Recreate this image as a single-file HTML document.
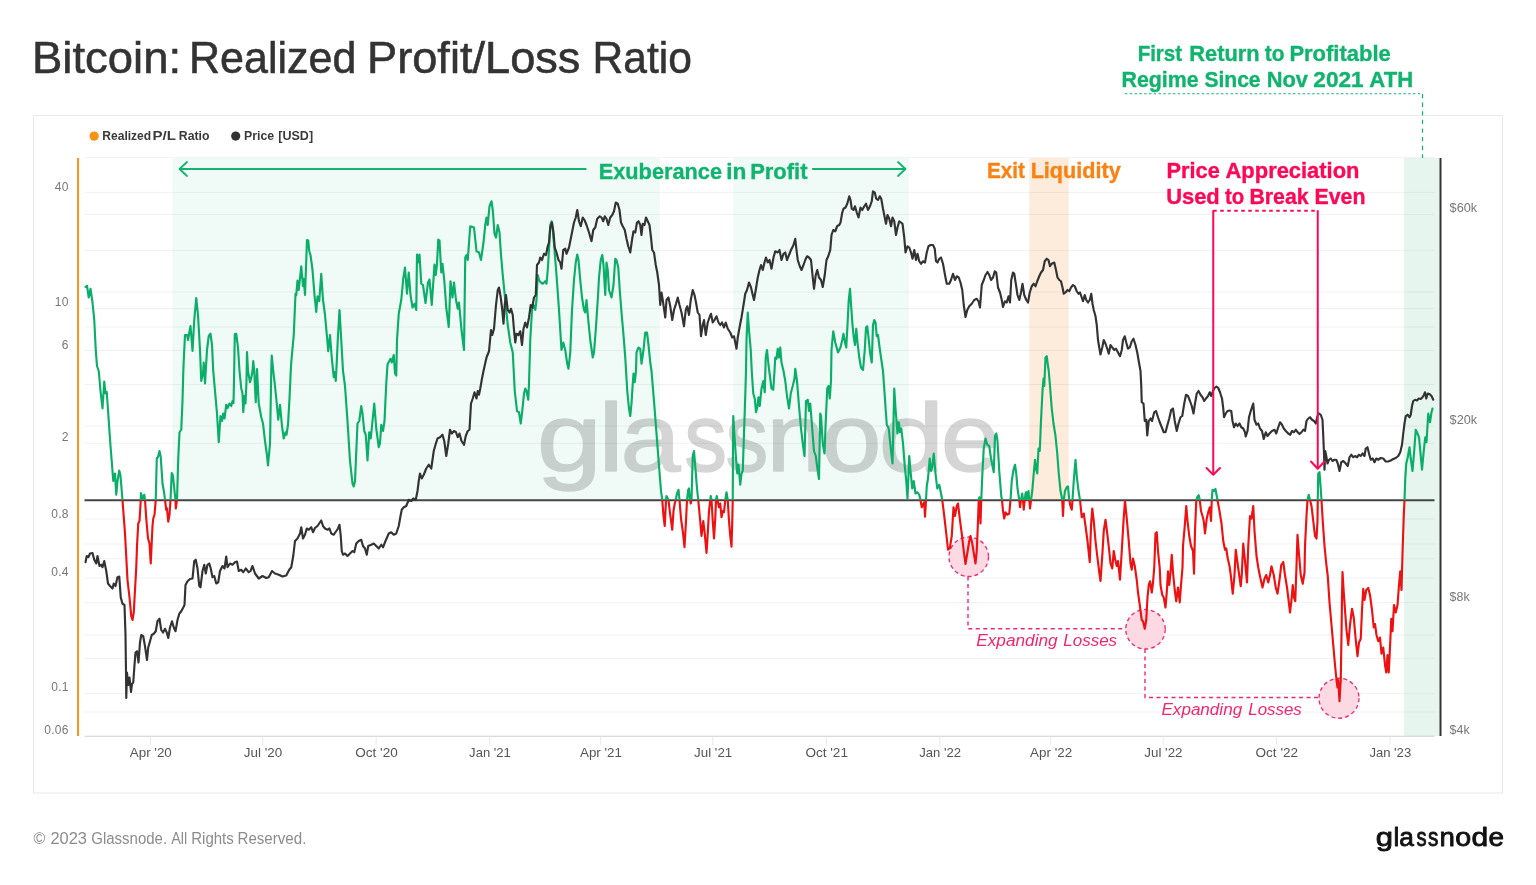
<!DOCTYPE html>
<html lang="en"><head><meta charset="utf-8"><title>Bitcoin: Realized Profit/Loss Ratio</title>
<style>
html,body{margin:0;padding:0;background:#fff;}
body{width:1536px;height:885px;overflow:hidden;font-family:"Liberation Sans", Arial, Helvetica, sans-serif;}
svg{display:block;will-change:transform}
text{font-family:"Liberation Sans", Arial, Helvetica, sans-serif;}
</style></head><body>
<svg width="1536" height="885" viewBox="0 0 1536 885">
<defs>
<clipPath id="up"><rect x="80" y="150" width="1360" height="350.25"/></clipPath>
<clipPath id="dn"><rect x="80" y="500.25" width="1360" height="240"/></clipPath>
</defs>
<rect x="0" y="0" width="1536" height="885" fill="#ffffff"/>

<g font-size="43.45" fill="#333" stroke="#333" stroke-width="0.55"> <text x="31.97" y="72.9" textLength="149.08" lengthAdjust="spacingAndGlyphs">Bitcoin:</text> <text x="188.97" y="72.9" textLength="167.4" lengthAdjust="spacingAndGlyphs">Realized</text> <text x="367.1" y="72.9" textLength="213.34" lengthAdjust="spacingAndGlyphs">Profit/Loss</text> <text x="592.61" y="72.9" textLength="99.38" lengthAdjust="spacingAndGlyphs">Ratio</text> </g>
<rect x="33.5" y="115.5" width="1469" height="677.5" fill="#ffffff" stroke="#e9e9e9" stroke-width="1"/>
<circle cx="94.15" cy="136.1" r="4.7" fill="#f7931a"/>
<g font-size="12.7" font-weight="bold" fill="#3a3a3a" > <text x="102.29" y="140.45" textLength="48.9" lengthAdjust="spacingAndGlyphs">Realized</text> <text x="152.5" y="140.45" textLength="23.37" lengthAdjust="spacingAndGlyphs">P/L</text> <text x="178.78" y="140.45" textLength="30.7" lengthAdjust="spacingAndGlyphs">Ratio</text> </g>
<circle cx="235.7" cy="136.1" r="4.6" fill="#333"/>
<g font-size="12.7" font-weight="bold" fill="#3a3a3a" > <text x="244.08" y="140.45" textLength="30.15" lengthAdjust="spacingAndGlyphs">Price</text> <text x="278.3" y="140.45" textLength="34.81" lengthAdjust="spacingAndGlyphs">[USD]</text> </g>
<rect x="172.5" y="158" width="487.25" height="342.25" fill="#f0faf6"/>
<rect x="733.5" y="158" width="175.25" height="342.25" fill="#f0faf6"/>
<rect x="1029.25" y="158" width="39.5" height="342.25" fill="#fdebdc"/>
<rect x="1404" y="158" width="35.5" height="578" fill="#e6f6ef"/>
<g stroke="#000" stroke-opacity="0.055" stroke-width="1">
<line x1="84.5" x2="1434.5" y1="157.6" y2="157.6"/>
<line x1="84.5" x2="1434.5" y1="192.4" y2="192.4"/>
<line x1="84.5" x2="1434.5" y1="214.4" y2="214.4"/>
<line x1="84.5" x2="1434.5" y1="250.4" y2="250.4"/>
<line x1="84.5" x2="1434.5" y1="292" y2="292"/>
<line x1="84.5" x2="1434.5" y1="308.5" y2="308.5"/>
<line x1="84.5" x2="1434.5" y1="327" y2="327"/>
<line x1="84.5" x2="1434.5" y1="350.5" y2="350.5"/>
<line x1="84.5" x2="1434.5" y1="384.5" y2="384.5"/>
<line x1="84.5" x2="1434.5" y1="426" y2="426"/>
<line x1="84.5" x2="1434.5" y1="443.3" y2="443.3"/>
<line x1="84.5" x2="1434.5" y1="519" y2="519"/>
<line x1="84.5" x2="1434.5" y1="544" y2="544"/>
<line x1="84.5" x2="1434.5" y1="558.75" y2="558.75"/>
<line x1="84.5" x2="1434.5" y1="578" y2="578"/>
<line x1="84.5" x2="1434.5" y1="602.6" y2="602.6"/>
<line x1="84.5" x2="1434.5" y1="635" y2="635"/>
<line x1="84.5" x2="1434.5" y1="658.4" y2="658.4"/>
<line x1="84.5" x2="1434.5" y1="693.6" y2="693.6"/>
<line x1="84.5" x2="1434.5" y1="712" y2="712"/>
</g>
<line x1="84.5" x2="1434.5" y1="736.25" y2="736.25" stroke="#cfcfcf" stroke-width="1"/>
<g stroke="#e9e9e9" stroke-width="1">
<line x1="150.5" x2="150.5" y1="736.5" y2="745"/>
<line x1="262.7" x2="262.7" y1="736.5" y2="745"/>
<line x1="376.2" x2="376.2" y1="736.5" y2="745"/>
<line x1="489.7" x2="489.7" y1="736.5" y2="745"/>
<line x1="600.7" x2="600.7" y1="736.5" y2="745"/>
<line x1="712.9" x2="712.9" y1="736.5" y2="745"/>
<line x1="826.4" x2="826.4" y1="736.5" y2="745"/>
<line x1="939.8" x2="939.8" y1="736.5" y2="745"/>
<line x1="1050.8" x2="1050.8" y1="736.5" y2="745"/>
<line x1="1163.1" x2="1163.1" y1="736.5" y2="745"/>
<line x1="1276.5" x2="1276.5" y1="736.5" y2="745"/>
<line x1="1390" x2="1390" y1="736.5" y2="745"/>
</g>
<g font-size="12.4" fill="#555">
<text x="129.80" y="756.6" textLength="42" lengthAdjust="spacingAndGlyphs">Apr '20</text>
<text x="243.88" y="756.6" textLength="38.25" lengthAdjust="spacingAndGlyphs">Jul '20</text>
<text x="355.25" y="756.6" textLength="42.5" lengthAdjust="spacingAndGlyphs">Oct '20</text>
<text x="469.12" y="756.6" textLength="41.75" lengthAdjust="spacingAndGlyphs">Jan '21</text>
<text x="580.00" y="756.6" textLength="42" lengthAdjust="spacingAndGlyphs">Apr '21</text>
<text x="694.07" y="756.6" textLength="38.25" lengthAdjust="spacingAndGlyphs">Jul '21</text>
<text x="805.45" y="756.6" textLength="42.5" lengthAdjust="spacingAndGlyphs">Oct '21</text>
<text x="919.22" y="756.6" textLength="41.75" lengthAdjust="spacingAndGlyphs">Jan '22</text>
<text x="1030.10" y="756.6" textLength="42" lengthAdjust="spacingAndGlyphs">Apr '22</text>
<text x="1144.27" y="756.6" textLength="38.25" lengthAdjust="spacingAndGlyphs">Jul '22</text>
<text x="1255.55" y="756.6" textLength="42.5" lengthAdjust="spacingAndGlyphs">Oct '22</text>
<text x="1369.42" y="756.6" textLength="41.75" lengthAdjust="spacingAndGlyphs">Jan '23</text>
</g>
<g font-size="12" fill="#777" text-anchor="end" letter-spacing="0.3">
<text x="68.8" y="190.5">40</text>
<text x="68.8" y="306.3">10</text>
<text x="68.8" y="349.0">6</text>
<text x="68.8" y="440.9">2</text>
<text x="68.8" y="517.5">0.8</text>
<text x="68.8" y="575.7">0.4</text>
<text x="68.8" y="691.3">0.1</text>
<text x="68.8" y="734.0">0.06</text>
</g>
<g font-size="12" fill="#777">
<text x="1449.6" y="212.3" textLength="27.5" lengthAdjust="spacingAndGlyphs">$60k</text>
<text x="1449.6" y="424.1" textLength="27.5" lengthAdjust="spacingAndGlyphs">$20k</text>
<text x="1449.6" y="600.5" textLength="20" lengthAdjust="spacingAndGlyphs">$8k</text>
<text x="1449.6" y="734.3" textLength="20" lengthAdjust="spacingAndGlyphs">$4k</text>
</g>
<line x1="78.05" x2="78.05" y1="158" y2="736" stroke="#f7931a" stroke-width="2"/>
<line x1="1440.5" x2="1440.5" y1="158" y2="736" stroke="#333" stroke-width="2"/>
<g aria-label="glassnode" opacity="0.16" fill="#000" stroke="#000" stroke-width="1.6" stroke-linejoin="round" font-size="100"><text transform="translate(536.8,471.2) scale(1.173,0.97)">g</text><text transform="translate(598.3,471.2) scale(1.15,0.97)">l</text><text transform="translate(620.5,471.2) scale(1.08,0.97)">a</text><text transform="translate(684.3,471.2) scale(0.856,0.97)">s</text><text transform="translate(725.6,471.2) scale(0.856,0.97)">s</text><text transform="translate(766.5,471.2) scale(1.056,0.97)">n</text><text transform="translate(821.2,471.2) scale(1.083,0.97)">o</text><text transform="translate(878.6,471.2) scale(1.184,0.97)">d</text><text transform="translate(940.8,471.2) scale(1.064,0.97)">e</text></g>
<line x1="84.5" x2="1434.5" y1="500.25" y2="500.25" stroke="#444" stroke-width="1.8"/>
<circle cx="968.75" cy="556.75" r="19.75" fill="#fcd9e3" stroke="#f2266f" stroke-width="1.3" stroke-dasharray="4 3"/>
<circle cx="1145.5" cy="629.25" r="19.75" fill="#fcd9e3" stroke="#f2266f" stroke-width="1.3" stroke-dasharray="4 3"/>
<circle cx="1339" cy="698.25" r="20" fill="#fcd9e3" stroke="#f2266f" stroke-width="1.3" stroke-dasharray="4 3"/>
<path d="M968,576.5 V628.75 H1126" fill="none" stroke="#f2266f" stroke-width="1.4" stroke-dasharray="4 3.5"/>
<path d="M1145,649 V697.5 H1319" fill="none" stroke="#f2266f" stroke-width="1.4" stroke-dasharray="4 3.5"/>
<path d="M85.50,287.00 L87.00,285.75 L88.75,297.50 L90.50,288.75 L92.50,302.50 L94.25,320.00 L95.75,350.00 L97.00,366.00 L98.75,371.00 L100.50,391.00 L102.50,408.50 L104.25,381.50 L105.50,393.50 L106.75,392.00 L108.75,421.00 L110.50,446.00 L112.50,471.00 L113.25,481.00 L115.00,473.50 L116.25,494.75 L117.50,481.00 L119.25,470.50 L120.50,476.00 L122.50,500.00 L125.00,533.50 L127.50,580.00 L129.50,597.50 L131.25,616.25 L132.50,620.00 L133.75,612.50 L135.00,590.00 L136.25,567.50 L137.00,546.00 L138.25,523.50 L139.50,521.00 L140.75,500.00 L140.90,493.00 L142.50,498.50 L144.25,494.75 L145.00,500.00 L146.25,518.50 L148.00,538.50 L149.50,543.50 L150.75,563.50 L152.50,526.00 L153.25,518.50 L154.50,514.75 L155.75,500.00 L156.75,458.50 L158.00,457.00 L159.50,451.00 L160.75,457.25 L162.50,483.50 L164.25,493.50 L165.00,500.00 L166.25,509.75 L167.00,508.50 L168.25,521.75 L169.50,514.75 L170.50,500.00 L171.75,473.00 L173.00,476.00 L174.50,491.00 L175.50,500.00 L175.75,508.50 L177.00,500.00 L178.25,458.50 L179.50,432.25 L181.25,429.75 L182.50,401.00 L183.25,373.50 L183.60,363.75 L185.00,335.00 L187.00,335.00 L188.00,340.00 L190.50,326.00 L192.50,351.00 L194.25,320.00 L196.25,298.00 L198.00,315.00 L200.00,350.00 L201.25,381.00 L203.00,373.00 L203.75,362.50 L205.00,383.50 L207.00,350.00 L208.75,336.00 L210.50,333.75 L212.00,345.00 L213.25,371.00 L215.00,391.00 L217.00,413.50 L218.75,442.25 L220.50,416.00 L222.00,421.00 L223.25,413.50 L224.50,418.50 L226.25,404.75 L227.50,408.00 L229.50,403.50 L231.25,406.00 L232.50,401.00 L233.50,403.00 L234.20,371.00 L234.80,334.00 L236.25,333.75 L238.00,347.50 L239.50,371.00 L241.25,388.50 L242.50,393.50 L243.25,412.25 L244.50,396.00 L245.50,403.50 L246.50,381.00 L247.00,352.00 L248.00,371.00 L250.00,382.25 L251.25,378.00 L252.50,371.00 L253.25,361.00 L254.25,371.00 L255.75,402.25 L257.00,369.00 L258.75,403.50 L261.25,417.25 L263.00,423.50 L265.00,441.00 L266.75,453.50 L268.00,465.50 L270.00,443.50 L271.25,371.00 L271.75,355.50 L273.25,371.00 L275.00,386.00 L276.75,403.50 L278.25,419.75 L280.00,404.75 L282.00,426.00 L283.75,438.50 L285.50,432.25 L286.50,434.75 L288.00,424.75 L289.50,398.50 L290.75,371.00 L291.25,362.50 L293.75,335.00 L295.50,293.75 L296.25,295.00 L297.50,280.50 L298.75,290.00 L301.25,266.25 L303.00,286.25 L303.75,278.75 L305.00,295.00 L307.00,240.00 L308.25,240.50 L309.25,251.25 L310.50,255.00 L312.50,270.00 L314.50,295.00 L316.25,312.00 L317.50,296.25 L319.25,301.25 L321.25,273.75 L323.00,300.00 L325.00,315.00 L327.50,342.50 L328.25,351.25 L330.00,335.00 L331.75,357.50 L333.75,377.25 L335.00,372.00 L335.75,381.00 L336.50,367.50 L338.00,335.00 L339.50,310.00 L341.25,340.00 L343.00,371.00 L345.00,386.00 L347.50,421.00 L350.00,461.00 L352.50,483.50 L353.75,486.50 L355.00,481.00 L357.50,423.50 L359.25,421.00 L361.25,406.00 L362.50,413.50 L364.25,431.00 L365.75,434.75 L367.50,460.50 L369.25,432.25 L370.75,438.50 L372.50,421.00 L374.25,403.50 L376.25,428.50 L378.75,447.25 L380.00,443.50 L381.25,424.75 L383.00,431.00 L384.50,421.00 L386.25,383.50 L387.50,364.50 L390.50,358.75 L391.75,362.50 L393.75,355.00 L395.00,373.50 L396.25,375.50 L397.00,340.00 L398.75,313.75 L401.25,300.00 L403.25,278.75 L405.00,267.50 L407.00,293.75 L408.75,272.50 L410.50,295.00 L412.50,307.50 L414.50,303.75 L416.25,310.00 L417.00,254.50 L418.25,262.50 L419.50,254.50 L421.25,283.75 L423.00,285.00 L425.50,303.00 L428.00,282.50 L429.50,279.50 L431.75,305.00 L434.50,264.50 L435.75,275.00 L437.00,263.75 L438.25,239.50 L439.50,240.50 L441.25,272.50 L442.50,263.75 L444.25,280.00 L446.25,307.50 L448.75,327.00 L450.50,281.25 L452.50,297.50 L454.00,282.50 L456.00,300.00 L457.75,308.75 L459.00,302.50 L461.50,330.00 L464.00,350.00 L465.25,257.50 L466.50,255.00 L467.75,260.00 L470.25,226.25 L474.00,227.50 L476.50,251.25 L479.00,252.50 L481.00,260.00 L483.50,242.50 L485.25,225.00 L486.50,217.50 L487.75,225.00 L489.50,206.25 L491.50,201.25 L492.75,210.00 L494.50,233.75 L496.00,237.50 L497.75,225.00 L499.50,232.50 L501.00,255.00 L502.75,275.00 L505.25,300.00 L507.75,325.00 L510.25,342.50 L512.75,352.50 L514.75,391.00 L517.00,411.00 L519.00,412.25 L520.75,423.50 L522.25,411.00 L524.00,393.50 L525.25,388.50 L526.50,391.00 L528.25,399.75 L529.00,383.50 L530.25,340.00 L532.00,310.00 L533.50,305.00 L535.25,310.00 L536.50,300.00 L537.75,275.00 L539.00,280.00 L540.75,282.50 L542.75,283.75 L545.25,281.25 L546.50,283.75 L547.75,270.00 L549.00,250.00 L550.25,225.00 L551.50,221.25 L552.75,230.00 L554.50,250.00 L556.50,275.00 L559.00,310.00 L561.50,350.00 L563.25,342.50 L565.25,350.00 L567.25,363.75 L568.50,368.75 L570.25,352.50 L572.00,310.00 L574.00,280.00 L575.75,262.50 L577.25,254.50 L578.50,260.00 L580.25,280.00 L582.00,297.50 L584.00,310.00 L585.25,312.50 L586.50,300.00 L588.25,320.00 L590.25,340.00 L592.75,357.50 L594.00,352.50 L595.75,330.00 L597.75,300.00 L599.00,277.50 L600.75,260.00 L602.25,255.00 L603.50,265.00 L605.25,295.00 L606.50,262.50 L607.75,270.00 L609.00,290.00 L611.50,297.50 L613.50,285.00 L615.25,258.75 L616.50,260.00 L618.25,267.50 L619.75,290.00 L621.50,312.50 L623.50,335.00 L625.25,357.50 L627.25,391.00 L629.00,408.50 L630.25,416.00 L631.50,403.50 L632.75,383.50 L633.50,373.50 L634.75,382.25 L636.00,371.00 L636.50,352.50 L638.50,347.50 L640.25,348.75 L641.50,363.75 L643.50,350.00 L645.25,332.50 L647.00,332.50 L648.50,345.00 L650.25,362.50 L651.50,371.00 L654.00,401.00 L656.50,433.50 L659.00,466.00 L661.00,491.00 L662.25,500.00 L663.50,516.00 L664.75,526.00 L666.00,500.00 L666.50,496.00 L667.75,498.50 L668.50,500.00 L669.50,508.75 L670.75,518.50 L672.25,529.75 L673.50,511.00 L674.75,503.50 L675.75,500.00 L677.00,493.50 L678.50,489.75 L679.50,500.00 L681.00,518.50 L682.75,531.00 L684.50,547.25 L686.00,521.00 L687.00,500.00 L688.25,489.75 L689.00,488.50 L689.75,498.50 L690.25,500.00 L690.75,503.50 L691.50,500.00 L692.75,456.00 L694.00,451.00 L695.25,466.00 L697.00,488.50 L698.25,500.00 L699.75,516.00 L701.50,536.00 L703.25,521.00 L704.75,533.50 L706.50,553.00 L707.75,533.50 L709.00,511.00 L710.25,500.00 L710.75,496.00 L711.50,500.00 L712.75,521.00 L714.00,538.50 L715.25,518.50 L716.00,500.00 L716.75,496.00 L717.50,500.00 L719.00,507.25 L720.25,503.50 L721.50,517.25 L722.75,511.00 L724.00,512.25 L725.25,500.00 L726.50,492.25 L727.75,500.00 L729.00,521.00 L730.25,536.00 L731.50,546.75 L732.25,521.00 L732.75,500.00 L733.00,446.00 L733.25,416.00 L734.50,436.00 L736.00,458.50 L737.25,473.50 L738.50,464.75 L740.25,484.75 L741.50,473.50 L742.75,471.00 L744.00,433.50 L745.25,396.00 L746.00,371.00 L746.50,340.00 L747.75,312.50 L749.00,330.00 L750.75,350.00 L751.75,371.00 L753.25,393.50 L754.75,398.50 L756.00,412.25 L757.25,407.25 L758.50,397.25 L759.75,406.00 L761.50,388.50 L763.25,381.00 L764.75,392.25 L765.75,357.50 L767.00,350.00 L768.50,365.00 L770.25,378.50 L771.50,388.50 L773.25,389.75 L774.50,371.00 L775.25,357.50 L776.50,358.75 L777.75,348.75 L779.00,357.50 L780.25,347.50 L781.50,362.50 L783.50,371.00 L785.25,381.00 L787.00,396.00 L789.00,408.50 L790.75,393.50 L792.75,386.00 L794.50,378.50 L795.25,368.75 L797.00,381.00 L799.00,406.00 L801.00,428.50 L802.75,443.50 L804.50,456.00 L806.00,401.00 L807.75,399.75 L809.00,411.00 L810.25,403.50 L812.00,426.00 L814.00,451.00 L815.75,456.00 L817.75,471.00 L819.00,479.00 L820.25,413.50 L821.00,416.00 L822.75,443.50 L824.50,453.50 L825.75,421.00 L827.25,388.50 L828.50,386.00 L829.75,398.50 L831.00,381.00 L831.50,350.00 L833.25,331.25 L835.25,342.50 L838.00,352.50 L840.50,347.50 L842.25,340.00 L843.50,333.75 L845.00,342.50 L846.25,347.50 L847.50,325.00 L848.75,300.00 L850.00,288.75 L851.25,307.50 L852.50,325.00 L853.75,337.50 L855.00,345.00 L856.25,328.75 L857.50,342.50 L859.25,357.50 L861.00,367.50 L863.00,370.00 L864.75,350.00 L866.00,327.50 L867.25,326.25 L868.50,337.50 L870.00,352.50 L871.75,362.50 L873.00,325.00 L874.25,320.00 L875.50,322.50 L876.75,336.25 L878.00,335.00 L879.25,345.00 L881.00,357.50 L883.00,371.00 L884.75,396.00 L886.75,424.75 L888.75,428.50 L890.50,446.00 L892.50,463.50 L893.50,421.00 L894.25,388.50 L895.50,408.50 L897.50,433.50 L898.75,422.25 L900.00,432.25 L901.25,428.50 L903.00,443.50 L904.75,466.00 L906.25,481.00 L907.50,498.50 L909.25,456.00 L910.50,471.00 L912.25,488.50 L913.75,481.00 L915.50,493.50 L917.50,492.25 L919.25,494.75 L920.50,500.00 L921.75,507.25 L923.00,504.75 L924.25,502.25 L925.00,516.75 L926.00,500.00 L926.75,486.00 L928.00,478.50 L929.75,458.50 L931.00,471.00 L932.25,467.25 L933.75,453.50 L935.50,473.50 L937.25,488.50 L939.25,484.75 L941.00,493.50 L942.25,500.00 L944.25,516.00 L946.25,533.50 L948.00,549.75 L949.75,548.50 L951.75,536.00 L953.50,507.25 L955.00,516.00 L956.75,506.00 L958.00,503.50 L959.75,518.50 L961.75,533.50 L963.75,551.00 L965.50,564.00 L967.25,553.50 L969.25,541.00 L970.50,536.00 L972.25,543.50 L974.25,556.00 L975.50,563.50 L976.75,551.00 L978.00,521.00 L978.75,500.00 L979.25,497.25 L979.75,500.00 L980.50,523.50 L981.25,500.00 L982.50,471.00 L983.75,448.50 L985.50,438.50 L987.25,444.75 L989.25,446.00 L991.00,458.50 L992.50,466.00 L993.75,472.25 L995.00,436.00 L996.25,433.50 L997.50,441.00 L999.25,471.00 L1001.25,496.00 L1002.00,500.00 L1003.00,511.00 L1004.25,518.50 L1005.50,512.25 L1007.25,514.75 L1009.25,513.50 L1010.50,500.00 L1011.75,481.00 L1013.50,469.75 L1015.00,464.75 L1016.25,473.50 L1017.50,488.50 L1019.25,500.00 L1020.00,507.25 L1021.00,500.00 L1022.25,493.50 L1023.00,500.00 L1023.75,509.75 L1024.75,500.00 L1025.50,493.50 L1026.25,492.25 L1027.25,500.00 L1028.50,491.00 L1029.25,500.00 L1030.00,508.50 L1031.00,500.00 L1032.25,491.00 L1033.75,473.50 L1035.00,459.75 L1036.25,469.75 L1037.25,473.50 L1038.50,448.50 L1039.75,451.00 L1041.00,421.00 L1042.50,391.00 L1043.50,378.50 L1044.25,386.00 L1045.50,357.50 L1046.75,356.25 L1048.00,366.00 L1048.75,371.00 L1050.00,386.00 L1051.75,408.50 L1053.50,423.50 L1055.50,436.00 L1057.25,453.50 L1058.75,473.50 L1060.50,491.00 L1061.75,497.25 L1062.25,500.00 L1063.00,516.00 L1063.75,500.00 L1065.00,491.00 L1066.75,487.25 L1068.00,486.50 L1069.25,500.00 L1070.50,506.00 L1071.75,509.75 L1072.50,500.00 L1073.75,481.00 L1075.50,459.75 L1076.75,476.00 L1078.50,491.00 L1080.00,500.00 L1081.75,517.25 L1083.75,513.50 L1085.50,526.00 L1087.50,541.00 L1089.75,562.25 L1091.00,526.00 L1092.25,508.50 L1093.75,521.00 L1095.50,541.00 L1097.25,556.00 L1099.25,572.25 L1100.50,581.00 L1102.25,556.00 L1103.75,531.00 L1105.50,519.75 L1107.25,533.50 L1109.25,551.00 L1110.50,563.50 L1112.25,568.50 L1113.75,551.00 L1115.00,558.50 L1116.75,566.00 L1118.00,561.00 L1120.00,579.75 L1121.75,551.00 L1123.50,521.00 L1125.00,500.50 L1126.75,518.50 L1128.75,541.00 L1130.50,563.50 L1131.75,569.75 L1133.00,558.50 L1134.75,566.00 L1136.75,580.00 L1138.00,592.50 L1139.75,605.00 L1141.75,620.00 L1143.00,621.25 L1144.75,628.75 L1146.25,620.00 L1147.50,597.50 L1148.75,585.00 L1150.00,581.25 L1151.75,592.50 L1153.00,582.50 L1154.25,567.50 L1155.50,533.50 L1156.75,532.25 L1158.00,551.00 L1159.75,568.50 L1160.50,585.00 L1162.25,595.00 L1163.75,597.50 L1165.50,607.50 L1166.75,592.50 L1168.00,571.25 L1169.25,585.00 L1170.50,572.50 L1171.75,554.75 L1173.00,572.50 L1174.75,590.00 L1176.25,601.25 L1178.00,587.50 L1179.75,602.50 L1181.00,585.00 L1182.50,567.50 L1183.00,546.00 L1184.75,526.00 L1186.25,506.00 L1187.50,521.00 L1189.25,536.00 L1191.00,546.00 L1193.00,551.00 L1194.00,573.75 L1195.00,531.00 L1196.25,501.00 L1197.25,497.25 L1198.75,495.25 L1199.75,500.00 L1201.00,511.00 L1202.50,516.00 L1203.75,521.00 L1205.00,533.50 L1206.75,518.50 L1208.50,511.00 L1209.75,507.25 L1211.00,521.00 L1211.75,500.00 L1212.50,489.75 L1214.00,491.00 L1215.50,489.00 L1216.75,496.00 L1217.50,500.00 L1219.50,511.00 L1221.50,523.50 L1223.25,541.00 L1225.00,549.75 L1226.25,548.50 L1227.75,558.50 L1229.50,566.00 L1230.75,575.00 L1232.75,593.75 L1234.50,575.00 L1235.75,549.75 L1238.25,568.50 L1240.75,586.25 L1241.75,575.00 L1243.25,543.50 L1245.00,561.00 L1247.00,582.50 L1248.25,546.00 L1250.00,516.00 L1251.50,518.50 L1253.25,506.00 L1254.50,531.00 L1256.50,556.00 L1258.25,567.50 L1260.25,577.50 L1262.50,587.50 L1264.50,578.75 L1266.25,575.00 L1268.25,582.50 L1270.00,575.00 L1271.50,566.25 L1273.75,575.00 L1275.75,587.50 L1277.50,593.75 L1279.50,580.00 L1281.25,565.00 L1283.25,562.00 L1285.00,575.00 L1287.00,587.50 L1288.25,597.50 L1290.00,612.50 L1291.50,600.00 L1292.75,585.00 L1294.00,597.50 L1295.25,601.25 L1296.50,566.00 L1297.50,534.75 L1298.75,551.00 L1300.75,575.00 L1302.75,583.75 L1304.50,572.50 L1305.00,546.00 L1306.50,516.00 L1307.50,500.00 L1308.75,494.75 L1310.00,500.00 L1311.50,506.00 L1313.25,521.00 L1315.00,536.00 L1316.50,538.50 L1317.50,521.00 L1317.75,500.00 L1318.25,473.50 L1319.50,472.25 L1320.75,488.50 L1321.50,500.00 L1322.75,521.00 L1324.50,546.00 L1326.25,563.50 L1327.75,576.00 L1329.50,602.50 L1331.50,625.00 L1333.25,645.00 L1335.00,665.00 L1336.50,680.00 L1337.50,687.50 L1338.25,680.00 L1339.50,701.25 L1340.75,680.00 L1341.50,635.00 L1342.00,597.50 L1342.50,572.00 L1343.75,592.50 L1345.00,610.00 L1346.50,630.00 L1348.25,645.00 L1350.00,625.00 L1352.00,608.75 L1353.75,617.50 L1355.75,640.00 L1357.50,656.25 L1359.00,642.50 L1360.75,638.75 L1362.00,610.00 L1363.25,588.75 L1364.50,600.00 L1366.25,590.00 L1368.25,588.00 L1370.00,595.00 L1372.00,610.00 L1373.75,627.50 L1375.00,624.00 L1376.50,635.00 L1378.25,641.25 L1380.00,637.50 L1381.50,653.75 L1383.25,647.50 L1385.00,665.00 L1386.25,672.50 L1387.50,655.00 L1388.75,672.50 L1390.00,647.50 L1391.25,618.75 L1392.50,631.25 L1394.00,605.00 L1395.75,612.50 L1397.50,605.00 L1399.00,585.00 L1400.25,571.25 L1401.50,590.00 L1402.75,546.00 L1403.75,516.00 L1404.50,500.00 L1405.25,478.50 L1406.25,463.50 L1407.75,457.25 L1409.50,447.25 L1410.75,458.50 L1412.50,471.00 L1414.00,453.50 L1415.75,429.75 L1417.50,433.50 L1419.00,437.25 L1420.75,456.00 L1422.00,469.75 L1423.75,451.00 L1425.25,437.25 L1426.50,442.25 L1428.25,413.50 L1430.00,422.25 L1431.50,412.25 L1432.50,408.50" fill="none" stroke="#0aae68" stroke-width="2.15" stroke-linejoin="round" stroke-linecap="round" clip-path="url(#up)"/>
<path d="M85.50,287.00 L87.00,285.75 L88.75,297.50 L90.50,288.75 L92.50,302.50 L94.25,320.00 L95.75,350.00 L97.00,366.00 L98.75,371.00 L100.50,391.00 L102.50,408.50 L104.25,381.50 L105.50,393.50 L106.75,392.00 L108.75,421.00 L110.50,446.00 L112.50,471.00 L113.25,481.00 L115.00,473.50 L116.25,494.75 L117.50,481.00 L119.25,470.50 L120.50,476.00 L122.50,500.00 L125.00,533.50 L127.50,580.00 L129.50,597.50 L131.25,616.25 L132.50,620.00 L133.75,612.50 L135.00,590.00 L136.25,567.50 L137.00,546.00 L138.25,523.50 L139.50,521.00 L140.75,500.00 L140.90,493.00 L142.50,498.50 L144.25,494.75 L145.00,500.00 L146.25,518.50 L148.00,538.50 L149.50,543.50 L150.75,563.50 L152.50,526.00 L153.25,518.50 L154.50,514.75 L155.75,500.00 L156.75,458.50 L158.00,457.00 L159.50,451.00 L160.75,457.25 L162.50,483.50 L164.25,493.50 L165.00,500.00 L166.25,509.75 L167.00,508.50 L168.25,521.75 L169.50,514.75 L170.50,500.00 L171.75,473.00 L173.00,476.00 L174.50,491.00 L175.50,500.00 L175.75,508.50 L177.00,500.00 L178.25,458.50 L179.50,432.25 L181.25,429.75 L182.50,401.00 L183.25,373.50 L183.60,363.75 L185.00,335.00 L187.00,335.00 L188.00,340.00 L190.50,326.00 L192.50,351.00 L194.25,320.00 L196.25,298.00 L198.00,315.00 L200.00,350.00 L201.25,381.00 L203.00,373.00 L203.75,362.50 L205.00,383.50 L207.00,350.00 L208.75,336.00 L210.50,333.75 L212.00,345.00 L213.25,371.00 L215.00,391.00 L217.00,413.50 L218.75,442.25 L220.50,416.00 L222.00,421.00 L223.25,413.50 L224.50,418.50 L226.25,404.75 L227.50,408.00 L229.50,403.50 L231.25,406.00 L232.50,401.00 L233.50,403.00 L234.20,371.00 L234.80,334.00 L236.25,333.75 L238.00,347.50 L239.50,371.00 L241.25,388.50 L242.50,393.50 L243.25,412.25 L244.50,396.00 L245.50,403.50 L246.50,381.00 L247.00,352.00 L248.00,371.00 L250.00,382.25 L251.25,378.00 L252.50,371.00 L253.25,361.00 L254.25,371.00 L255.75,402.25 L257.00,369.00 L258.75,403.50 L261.25,417.25 L263.00,423.50 L265.00,441.00 L266.75,453.50 L268.00,465.50 L270.00,443.50 L271.25,371.00 L271.75,355.50 L273.25,371.00 L275.00,386.00 L276.75,403.50 L278.25,419.75 L280.00,404.75 L282.00,426.00 L283.75,438.50 L285.50,432.25 L286.50,434.75 L288.00,424.75 L289.50,398.50 L290.75,371.00 L291.25,362.50 L293.75,335.00 L295.50,293.75 L296.25,295.00 L297.50,280.50 L298.75,290.00 L301.25,266.25 L303.00,286.25 L303.75,278.75 L305.00,295.00 L307.00,240.00 L308.25,240.50 L309.25,251.25 L310.50,255.00 L312.50,270.00 L314.50,295.00 L316.25,312.00 L317.50,296.25 L319.25,301.25 L321.25,273.75 L323.00,300.00 L325.00,315.00 L327.50,342.50 L328.25,351.25 L330.00,335.00 L331.75,357.50 L333.75,377.25 L335.00,372.00 L335.75,381.00 L336.50,367.50 L338.00,335.00 L339.50,310.00 L341.25,340.00 L343.00,371.00 L345.00,386.00 L347.50,421.00 L350.00,461.00 L352.50,483.50 L353.75,486.50 L355.00,481.00 L357.50,423.50 L359.25,421.00 L361.25,406.00 L362.50,413.50 L364.25,431.00 L365.75,434.75 L367.50,460.50 L369.25,432.25 L370.75,438.50 L372.50,421.00 L374.25,403.50 L376.25,428.50 L378.75,447.25 L380.00,443.50 L381.25,424.75 L383.00,431.00 L384.50,421.00 L386.25,383.50 L387.50,364.50 L390.50,358.75 L391.75,362.50 L393.75,355.00 L395.00,373.50 L396.25,375.50 L397.00,340.00 L398.75,313.75 L401.25,300.00 L403.25,278.75 L405.00,267.50 L407.00,293.75 L408.75,272.50 L410.50,295.00 L412.50,307.50 L414.50,303.75 L416.25,310.00 L417.00,254.50 L418.25,262.50 L419.50,254.50 L421.25,283.75 L423.00,285.00 L425.50,303.00 L428.00,282.50 L429.50,279.50 L431.75,305.00 L434.50,264.50 L435.75,275.00 L437.00,263.75 L438.25,239.50 L439.50,240.50 L441.25,272.50 L442.50,263.75 L444.25,280.00 L446.25,307.50 L448.75,327.00 L450.50,281.25 L452.50,297.50 L454.00,282.50 L456.00,300.00 L457.75,308.75 L459.00,302.50 L461.50,330.00 L464.00,350.00 L465.25,257.50 L466.50,255.00 L467.75,260.00 L470.25,226.25 L474.00,227.50 L476.50,251.25 L479.00,252.50 L481.00,260.00 L483.50,242.50 L485.25,225.00 L486.50,217.50 L487.75,225.00 L489.50,206.25 L491.50,201.25 L492.75,210.00 L494.50,233.75 L496.00,237.50 L497.75,225.00 L499.50,232.50 L501.00,255.00 L502.75,275.00 L505.25,300.00 L507.75,325.00 L510.25,342.50 L512.75,352.50 L514.75,391.00 L517.00,411.00 L519.00,412.25 L520.75,423.50 L522.25,411.00 L524.00,393.50 L525.25,388.50 L526.50,391.00 L528.25,399.75 L529.00,383.50 L530.25,340.00 L532.00,310.00 L533.50,305.00 L535.25,310.00 L536.50,300.00 L537.75,275.00 L539.00,280.00 L540.75,282.50 L542.75,283.75 L545.25,281.25 L546.50,283.75 L547.75,270.00 L549.00,250.00 L550.25,225.00 L551.50,221.25 L552.75,230.00 L554.50,250.00 L556.50,275.00 L559.00,310.00 L561.50,350.00 L563.25,342.50 L565.25,350.00 L567.25,363.75 L568.50,368.75 L570.25,352.50 L572.00,310.00 L574.00,280.00 L575.75,262.50 L577.25,254.50 L578.50,260.00 L580.25,280.00 L582.00,297.50 L584.00,310.00 L585.25,312.50 L586.50,300.00 L588.25,320.00 L590.25,340.00 L592.75,357.50 L594.00,352.50 L595.75,330.00 L597.75,300.00 L599.00,277.50 L600.75,260.00 L602.25,255.00 L603.50,265.00 L605.25,295.00 L606.50,262.50 L607.75,270.00 L609.00,290.00 L611.50,297.50 L613.50,285.00 L615.25,258.75 L616.50,260.00 L618.25,267.50 L619.75,290.00 L621.50,312.50 L623.50,335.00 L625.25,357.50 L627.25,391.00 L629.00,408.50 L630.25,416.00 L631.50,403.50 L632.75,383.50 L633.50,373.50 L634.75,382.25 L636.00,371.00 L636.50,352.50 L638.50,347.50 L640.25,348.75 L641.50,363.75 L643.50,350.00 L645.25,332.50 L647.00,332.50 L648.50,345.00 L650.25,362.50 L651.50,371.00 L654.00,401.00 L656.50,433.50 L659.00,466.00 L661.00,491.00 L662.25,500.00 L663.50,516.00 L664.75,526.00 L666.00,500.00 L666.50,496.00 L667.75,498.50 L668.50,500.00 L669.50,508.75 L670.75,518.50 L672.25,529.75 L673.50,511.00 L674.75,503.50 L675.75,500.00 L677.00,493.50 L678.50,489.75 L679.50,500.00 L681.00,518.50 L682.75,531.00 L684.50,547.25 L686.00,521.00 L687.00,500.00 L688.25,489.75 L689.00,488.50 L689.75,498.50 L690.25,500.00 L690.75,503.50 L691.50,500.00 L692.75,456.00 L694.00,451.00 L695.25,466.00 L697.00,488.50 L698.25,500.00 L699.75,516.00 L701.50,536.00 L703.25,521.00 L704.75,533.50 L706.50,553.00 L707.75,533.50 L709.00,511.00 L710.25,500.00 L710.75,496.00 L711.50,500.00 L712.75,521.00 L714.00,538.50 L715.25,518.50 L716.00,500.00 L716.75,496.00 L717.50,500.00 L719.00,507.25 L720.25,503.50 L721.50,517.25 L722.75,511.00 L724.00,512.25 L725.25,500.00 L726.50,492.25 L727.75,500.00 L729.00,521.00 L730.25,536.00 L731.50,546.75 L732.25,521.00 L732.75,500.00 L733.00,446.00 L733.25,416.00 L734.50,436.00 L736.00,458.50 L737.25,473.50 L738.50,464.75 L740.25,484.75 L741.50,473.50 L742.75,471.00 L744.00,433.50 L745.25,396.00 L746.00,371.00 L746.50,340.00 L747.75,312.50 L749.00,330.00 L750.75,350.00 L751.75,371.00 L753.25,393.50 L754.75,398.50 L756.00,412.25 L757.25,407.25 L758.50,397.25 L759.75,406.00 L761.50,388.50 L763.25,381.00 L764.75,392.25 L765.75,357.50 L767.00,350.00 L768.50,365.00 L770.25,378.50 L771.50,388.50 L773.25,389.75 L774.50,371.00 L775.25,357.50 L776.50,358.75 L777.75,348.75 L779.00,357.50 L780.25,347.50 L781.50,362.50 L783.50,371.00 L785.25,381.00 L787.00,396.00 L789.00,408.50 L790.75,393.50 L792.75,386.00 L794.50,378.50 L795.25,368.75 L797.00,381.00 L799.00,406.00 L801.00,428.50 L802.75,443.50 L804.50,456.00 L806.00,401.00 L807.75,399.75 L809.00,411.00 L810.25,403.50 L812.00,426.00 L814.00,451.00 L815.75,456.00 L817.75,471.00 L819.00,479.00 L820.25,413.50 L821.00,416.00 L822.75,443.50 L824.50,453.50 L825.75,421.00 L827.25,388.50 L828.50,386.00 L829.75,398.50 L831.00,381.00 L831.50,350.00 L833.25,331.25 L835.25,342.50 L838.00,352.50 L840.50,347.50 L842.25,340.00 L843.50,333.75 L845.00,342.50 L846.25,347.50 L847.50,325.00 L848.75,300.00 L850.00,288.75 L851.25,307.50 L852.50,325.00 L853.75,337.50 L855.00,345.00 L856.25,328.75 L857.50,342.50 L859.25,357.50 L861.00,367.50 L863.00,370.00 L864.75,350.00 L866.00,327.50 L867.25,326.25 L868.50,337.50 L870.00,352.50 L871.75,362.50 L873.00,325.00 L874.25,320.00 L875.50,322.50 L876.75,336.25 L878.00,335.00 L879.25,345.00 L881.00,357.50 L883.00,371.00 L884.75,396.00 L886.75,424.75 L888.75,428.50 L890.50,446.00 L892.50,463.50 L893.50,421.00 L894.25,388.50 L895.50,408.50 L897.50,433.50 L898.75,422.25 L900.00,432.25 L901.25,428.50 L903.00,443.50 L904.75,466.00 L906.25,481.00 L907.50,498.50 L909.25,456.00 L910.50,471.00 L912.25,488.50 L913.75,481.00 L915.50,493.50 L917.50,492.25 L919.25,494.75 L920.50,500.00 L921.75,507.25 L923.00,504.75 L924.25,502.25 L925.00,516.75 L926.00,500.00 L926.75,486.00 L928.00,478.50 L929.75,458.50 L931.00,471.00 L932.25,467.25 L933.75,453.50 L935.50,473.50 L937.25,488.50 L939.25,484.75 L941.00,493.50 L942.25,500.00 L944.25,516.00 L946.25,533.50 L948.00,549.75 L949.75,548.50 L951.75,536.00 L953.50,507.25 L955.00,516.00 L956.75,506.00 L958.00,503.50 L959.75,518.50 L961.75,533.50 L963.75,551.00 L965.50,564.00 L967.25,553.50 L969.25,541.00 L970.50,536.00 L972.25,543.50 L974.25,556.00 L975.50,563.50 L976.75,551.00 L978.00,521.00 L978.75,500.00 L979.25,497.25 L979.75,500.00 L980.50,523.50 L981.25,500.00 L982.50,471.00 L983.75,448.50 L985.50,438.50 L987.25,444.75 L989.25,446.00 L991.00,458.50 L992.50,466.00 L993.75,472.25 L995.00,436.00 L996.25,433.50 L997.50,441.00 L999.25,471.00 L1001.25,496.00 L1002.00,500.00 L1003.00,511.00 L1004.25,518.50 L1005.50,512.25 L1007.25,514.75 L1009.25,513.50 L1010.50,500.00 L1011.75,481.00 L1013.50,469.75 L1015.00,464.75 L1016.25,473.50 L1017.50,488.50 L1019.25,500.00 L1020.00,507.25 L1021.00,500.00 L1022.25,493.50 L1023.00,500.00 L1023.75,509.75 L1024.75,500.00 L1025.50,493.50 L1026.25,492.25 L1027.25,500.00 L1028.50,491.00 L1029.25,500.00 L1030.00,508.50 L1031.00,500.00 L1032.25,491.00 L1033.75,473.50 L1035.00,459.75 L1036.25,469.75 L1037.25,473.50 L1038.50,448.50 L1039.75,451.00 L1041.00,421.00 L1042.50,391.00 L1043.50,378.50 L1044.25,386.00 L1045.50,357.50 L1046.75,356.25 L1048.00,366.00 L1048.75,371.00 L1050.00,386.00 L1051.75,408.50 L1053.50,423.50 L1055.50,436.00 L1057.25,453.50 L1058.75,473.50 L1060.50,491.00 L1061.75,497.25 L1062.25,500.00 L1063.00,516.00 L1063.75,500.00 L1065.00,491.00 L1066.75,487.25 L1068.00,486.50 L1069.25,500.00 L1070.50,506.00 L1071.75,509.75 L1072.50,500.00 L1073.75,481.00 L1075.50,459.75 L1076.75,476.00 L1078.50,491.00 L1080.00,500.00 L1081.75,517.25 L1083.75,513.50 L1085.50,526.00 L1087.50,541.00 L1089.75,562.25 L1091.00,526.00 L1092.25,508.50 L1093.75,521.00 L1095.50,541.00 L1097.25,556.00 L1099.25,572.25 L1100.50,581.00 L1102.25,556.00 L1103.75,531.00 L1105.50,519.75 L1107.25,533.50 L1109.25,551.00 L1110.50,563.50 L1112.25,568.50 L1113.75,551.00 L1115.00,558.50 L1116.75,566.00 L1118.00,561.00 L1120.00,579.75 L1121.75,551.00 L1123.50,521.00 L1125.00,500.50 L1126.75,518.50 L1128.75,541.00 L1130.50,563.50 L1131.75,569.75 L1133.00,558.50 L1134.75,566.00 L1136.75,580.00 L1138.00,592.50 L1139.75,605.00 L1141.75,620.00 L1143.00,621.25 L1144.75,628.75 L1146.25,620.00 L1147.50,597.50 L1148.75,585.00 L1150.00,581.25 L1151.75,592.50 L1153.00,582.50 L1154.25,567.50 L1155.50,533.50 L1156.75,532.25 L1158.00,551.00 L1159.75,568.50 L1160.50,585.00 L1162.25,595.00 L1163.75,597.50 L1165.50,607.50 L1166.75,592.50 L1168.00,571.25 L1169.25,585.00 L1170.50,572.50 L1171.75,554.75 L1173.00,572.50 L1174.75,590.00 L1176.25,601.25 L1178.00,587.50 L1179.75,602.50 L1181.00,585.00 L1182.50,567.50 L1183.00,546.00 L1184.75,526.00 L1186.25,506.00 L1187.50,521.00 L1189.25,536.00 L1191.00,546.00 L1193.00,551.00 L1194.00,573.75 L1195.00,531.00 L1196.25,501.00 L1197.25,497.25 L1198.75,495.25 L1199.75,500.00 L1201.00,511.00 L1202.50,516.00 L1203.75,521.00 L1205.00,533.50 L1206.75,518.50 L1208.50,511.00 L1209.75,507.25 L1211.00,521.00 L1211.75,500.00 L1212.50,489.75 L1214.00,491.00 L1215.50,489.00 L1216.75,496.00 L1217.50,500.00 L1219.50,511.00 L1221.50,523.50 L1223.25,541.00 L1225.00,549.75 L1226.25,548.50 L1227.75,558.50 L1229.50,566.00 L1230.75,575.00 L1232.75,593.75 L1234.50,575.00 L1235.75,549.75 L1238.25,568.50 L1240.75,586.25 L1241.75,575.00 L1243.25,543.50 L1245.00,561.00 L1247.00,582.50 L1248.25,546.00 L1250.00,516.00 L1251.50,518.50 L1253.25,506.00 L1254.50,531.00 L1256.50,556.00 L1258.25,567.50 L1260.25,577.50 L1262.50,587.50 L1264.50,578.75 L1266.25,575.00 L1268.25,582.50 L1270.00,575.00 L1271.50,566.25 L1273.75,575.00 L1275.75,587.50 L1277.50,593.75 L1279.50,580.00 L1281.25,565.00 L1283.25,562.00 L1285.00,575.00 L1287.00,587.50 L1288.25,597.50 L1290.00,612.50 L1291.50,600.00 L1292.75,585.00 L1294.00,597.50 L1295.25,601.25 L1296.50,566.00 L1297.50,534.75 L1298.75,551.00 L1300.75,575.00 L1302.75,583.75 L1304.50,572.50 L1305.00,546.00 L1306.50,516.00 L1307.50,500.00 L1308.75,494.75 L1310.00,500.00 L1311.50,506.00 L1313.25,521.00 L1315.00,536.00 L1316.50,538.50 L1317.50,521.00 L1317.75,500.00 L1318.25,473.50 L1319.50,472.25 L1320.75,488.50 L1321.50,500.00 L1322.75,521.00 L1324.50,546.00 L1326.25,563.50 L1327.75,576.00 L1329.50,602.50 L1331.50,625.00 L1333.25,645.00 L1335.00,665.00 L1336.50,680.00 L1337.50,687.50 L1338.25,680.00 L1339.50,701.25 L1340.75,680.00 L1341.50,635.00 L1342.00,597.50 L1342.50,572.00 L1343.75,592.50 L1345.00,610.00 L1346.50,630.00 L1348.25,645.00 L1350.00,625.00 L1352.00,608.75 L1353.75,617.50 L1355.75,640.00 L1357.50,656.25 L1359.00,642.50 L1360.75,638.75 L1362.00,610.00 L1363.25,588.75 L1364.50,600.00 L1366.25,590.00 L1368.25,588.00 L1370.00,595.00 L1372.00,610.00 L1373.75,627.50 L1375.00,624.00 L1376.50,635.00 L1378.25,641.25 L1380.00,637.50 L1381.50,653.75 L1383.25,647.50 L1385.00,665.00 L1386.25,672.50 L1387.50,655.00 L1388.75,672.50 L1390.00,647.50 L1391.25,618.75 L1392.50,631.25 L1394.00,605.00 L1395.75,612.50 L1397.50,605.00 L1399.00,585.00 L1400.25,571.25 L1401.50,590.00 L1402.75,546.00 L1403.75,516.00 L1404.50,500.00 L1405.25,478.50 L1406.25,463.50 L1407.75,457.25 L1409.50,447.25 L1410.75,458.50 L1412.50,471.00 L1414.00,453.50 L1415.75,429.75 L1417.50,433.50 L1419.00,437.25 L1420.75,456.00 L1422.00,469.75 L1423.75,451.00 L1425.25,437.25 L1426.50,442.25 L1428.25,413.50 L1430.00,422.25 L1431.50,412.25 L1432.50,408.50" fill="none" stroke="#ee1111" stroke-width="2.15" stroke-linejoin="round" stroke-linecap="round" clip-path="url(#dn)"/>
<path d="M85.50,562.25 L86.75,556.00 L88.50,557.00 L90.00,553.50 L92.50,553.00 L94.25,559.75 L96.25,563.50 L97.50,556.00 L99.50,566.00 L101.25,564.75 L102.50,567.25 L104.25,561.00 L106.25,571.00 L108.00,583.50 L110.00,586.00 L112.50,588.50 L113.75,583.50 L115.50,586.00 L117.50,577.25 L119.25,576.50 L120.75,597.50 L122.50,603.75 L124.50,605.00 L125.50,635.00 L126.00,672.50 L126.25,698.00 L127.00,672.50 L128.25,685.00 L129.50,677.50 L131.00,692.00 L132.00,683.75 L133.25,682.50 L134.50,665.00 L135.50,652.50 L137.00,651.25 L138.50,662.50 L140.00,642.50 L141.25,635.00 L143.25,636.25 L145.00,646.25 L147.00,660.00 L148.25,647.50 L150.00,641.25 L151.75,635.00 L153.75,633.75 L155.75,631.25 L157.50,621.25 L159.50,618.75 L161.25,630.00 L163.00,632.50 L165.00,628.75 L166.75,632.50 L168.25,638.00 L170.00,627.50 L172.00,621.25 L173.75,627.50 L175.50,631.25 L177.50,620.00 L179.25,613.75 L181.25,611.25 L183.25,607.50 L184.50,605.00 L185.50,585.00 L187.50,581.25 L190.00,579.00 L192.50,578.50 L194.25,561.00 L195.75,559.75 L197.50,568.50 L199.25,586.00 L200.50,587.25 L202.50,571.00 L204.25,564.75 L205.75,573.50 L207.50,564.75 L209.25,563.50 L210.75,568.50 L212.50,577.25 L214.25,576.00 L216.25,583.50 L218.25,582.25 L220.00,571.00 L222.50,566.00 L224.50,568.50 L226.25,556.50 L227.50,567.25 L230.00,563.50 L232.50,564.75 L235.00,562.25 L237.00,561.50 L238.75,571.00 L241.25,569.75 L243.25,572.25 L245.75,568.50 L248.75,572.25 L250.50,571.00 L252.50,566.00 L255.00,573.50 L258.75,578.50 L262.50,576.00 L266.25,578.00 L268.75,577.25 L272.00,571.00 L275.00,573.50 L278.75,574.75 L282.50,576.50 L286.25,575.50 L289.25,569.75 L291.25,567.25 L293.25,556.00 L295.00,541.00 L297.50,538.50 L300.00,533.50 L301.25,527.25 L303.00,538.50 L305.00,534.75 L306.75,528.50 L308.75,529.75 L311.25,527.25 L313.00,532.25 L315.00,528.00 L317.50,526.00 L320.00,522.25 L321.25,520.50 L323.00,526.00 L325.00,528.50 L327.50,529.75 L329.50,528.50 L331.25,533.50 L333.75,534.75 L336.25,531.00 L338.00,528.50 L339.50,524.75 L340.75,536.00 L341.75,551.00 L343.00,554.75 L345.00,553.50 L347.50,556.00 L350.00,553.50 L352.50,551.00 L354.25,552.25 L356.25,543.50 L358.75,541.00 L361.25,539.75 L363.00,546.00 L365.00,548.50 L366.75,554.75 L368.25,546.00 L371.25,544.75 L373.75,543.50 L376.25,546.00 L378.75,548.50 L381.25,544.75 L383.00,547.25 L385.50,541.00 L388.75,533.50 L391.25,532.25 L393.75,534.75 L396.25,533.50 L398.75,526.00 L400.50,516.00 L401.75,509.75 L403.75,507.25 L406.25,506.00 L408.75,499.75 L411.25,501.00 L413.25,498.50 L415.75,499.75 L417.50,491.00 L418.75,481.00 L420.00,473.50 L421.75,478.50 L423.75,474.75 L426.25,468.50 L428.75,464.75 L431.25,468.50 L433.75,451.00 L435.50,444.75 L437.50,438.50 L440.00,437.25 L442.50,434.75 L444.25,441.00 L446.25,456.00 L448.25,443.50 L450.00,429.75 L451.75,433.50 L454.00,431.00 L456.00,432.25 L457.75,437.25 L459.50,433.50 L461.50,441.00 L464.00,444.75 L465.75,436.00 L467.75,431.00 L469.50,429.75 L471.00,403.50 L472.75,398.50 L474.50,392.25 L476.50,398.50 L477.75,391.00 L479.00,394.75 L480.25,388.50 L482.00,378.50 L483.50,371.00 L486.50,357.50 L489.00,351.25 L491.00,330.00 L492.25,335.00 L494.00,328.75 L496.00,305.00 L497.75,290.00 L499.00,287.50 L500.75,297.50 L502.25,310.00 L503.50,323.75 L504.75,305.00 L506.00,295.00 L507.75,310.00 L509.50,312.50 L511.00,308.75 L512.75,315.00 L514.00,330.00 L515.25,342.50 L516.50,333.75 L518.50,335.00 L520.25,331.25 L522.00,345.00 L523.50,328.75 L525.25,322.50 L527.00,327.50 L529.00,317.50 L530.75,305.00 L532.25,307.50 L534.00,297.50 L535.75,295.00 L537.00,265.00 L539.00,262.50 L540.25,257.50 L542.00,260.00 L544.00,253.75 L546.00,255.00 L547.75,246.25 L549.00,242.50 L550.25,227.50 L552.00,222.50 L553.50,232.50 L554.75,247.50 L556.50,252.50 L558.50,260.00 L560.25,262.50 L561.50,268.75 L563.25,250.00 L565.25,248.75 L566.50,253.75 L569.00,247.50 L571.50,235.00 L574.00,222.50 L575.75,217.50 L577.25,210.00 L579.00,221.25 L580.75,226.25 L582.75,217.50 L584.50,220.00 L586.50,225.00 L589.00,232.50 L591.50,241.25 L593.25,230.00 L595.25,227.50 L597.25,218.75 L599.75,216.25 L601.50,217.50 L603.25,221.25 L604.75,216.25 L606.50,218.75 L608.25,225.00 L610.25,217.50 L612.25,215.00 L614.00,211.25 L615.75,202.50 L617.75,203.75 L619.50,210.00 L621.00,222.50 L622.75,226.25 L624.75,230.00 L626.50,238.75 L628.25,246.25 L630.25,252.50 L632.00,240.00 L633.50,231.25 L635.25,232.50 L637.00,222.50 L638.50,221.25 L640.25,225.00 L641.50,235.00 L642.75,223.75 L644.50,225.00 L646.00,217.50 L647.75,221.25 L649.50,225.00 L651.00,237.50 L652.25,250.00 L654.00,252.50 L655.75,265.00 L657.25,272.50 L659.00,285.00 L660.25,305.00 L661.50,292.50 L662.75,300.00 L664.00,308.75 L665.25,317.50 L666.50,300.00 L668.50,297.50 L670.25,306.25 L672.25,320.00 L674.00,310.00 L676.00,303.75 L677.75,297.50 L679.50,305.00 L681.50,312.50 L684.00,326.25 L685.75,310.00 L687.25,306.25 L689.00,315.00 L690.75,300.00 L692.75,290.00 L694.50,295.00 L696.00,302.50 L697.75,312.50 L699.50,315.00 L701.00,336.25 L702.75,325.00 L704.00,320.00 L705.75,335.00 L707.75,322.50 L709.50,317.50 L711.00,313.75 L712.75,322.50 L714.50,320.00 L716.50,316.25 L718.50,322.50 L720.25,325.00 L722.00,322.50 L724.00,327.50 L725.75,322.50 L727.75,328.75 L730.25,332.50 L732.25,337.50 L734.00,336.25 L736.50,348.75 L737.75,337.50 L739.75,326.25 L741.50,317.50 L743.50,305.00 L745.25,293.75 L747.00,290.00 L749.00,282.50 L751.00,287.50 L752.75,295.00 L754.00,300.00 L755.75,290.00 L757.75,277.50 L759.50,270.00 L761.00,265.00 L762.75,270.00 L764.50,262.50 L766.00,257.50 L767.75,262.50 L769.50,260.00 L771.50,268.75 L773.50,257.50 L775.25,251.25 L777.75,252.50 L779.50,250.00 L781.50,260.00 L783.50,253.75 L785.25,252.50 L787.00,260.00 L789.00,255.00 L791.00,250.00 L793.50,245.00 L795.25,238.75 L796.50,250.00 L797.75,260.00 L799.75,266.25 L801.50,270.00 L803.50,265.00 L805.25,260.00 L807.00,256.25 L809.00,257.50 L811.00,260.00 L812.75,277.50 L814.00,288.75 L815.75,275.00 L817.25,270.00 L819.00,277.50 L821.00,280.00 L822.75,287.00 L824.75,275.00 L826.50,260.00 L828.25,256.25 L830.25,250.00 L831.50,235.00 L833.25,230.00 L835.25,231.25 L837.25,226.00 L839.25,225.00 L840.50,222.50 L842.25,212.50 L843.50,208.75 L845.50,207.50 L847.25,203.75 L849.25,196.25 L850.50,200.00 L851.75,208.75 L853.50,210.00 L855.00,206.25 L856.75,212.50 L858.50,217.50 L860.50,207.50 L862.25,210.00 L864.25,206.25 L866.00,203.75 L868.00,210.00 L870.00,206.25 L871.75,201.25 L873.00,191.25 L874.75,192.50 L876.25,198.75 L878.00,200.00 L879.75,196.25 L881.25,198.75 L883.00,208.75 L884.75,217.50 L886.00,223.75 L887.50,215.00 L889.25,218.75 L891.00,226.25 L892.50,217.50 L894.25,221.25 L896.00,235.00 L897.50,227.50 L899.25,221.25 L901.00,222.50 L902.50,223.75 L904.25,237.50 L905.50,252.50 L907.50,246.25 L909.25,247.50 L911.00,252.50 L912.50,258.75 L914.25,250.00 L916.00,260.00 L917.50,253.75 L919.25,261.25 L921.00,263.75 L923.00,261.25 L925.00,262.50 L926.75,252.50 L928.50,246.25 L930.50,245.00 L933.00,245.00 L934.75,248.75 L936.00,261.25 L937.50,262.50 L939.25,258.75 L941.00,257.50 L943.00,263.75 L945.00,275.00 L946.75,283.75 L949.25,283.75 L951.00,280.00 L953.00,273.75 L955.00,280.00 L956.75,276.25 L958.75,277.50 L960.50,282.50 L962.25,290.00 L963.75,305.00 L965.50,317.00 L967.25,310.00 L969.25,306.25 L971.75,303.75 L974.25,300.00 L976.75,298.75 L978.50,301.25 L980.00,307.50 L981.75,285.00 L983.75,280.00 L985.50,275.00 L987.50,272.00 L989.25,275.00 L991.00,280.00 L993.00,277.50 L994.75,271.25 L996.25,272.50 L998.00,287.50 L1000.00,292.50 L1001.75,300.00 L1003.00,307.00 L1005.00,301.25 L1006.75,302.50 L1008.50,296.25 L1010.00,302.50 L1011.25,280.00 L1013.00,272.50 L1014.25,273.75 L1016.00,285.00 L1017.50,295.00 L1019.25,300.00 L1021.00,292.50 L1022.50,283.75 L1024.25,295.00 L1026.25,300.00 L1028.00,302.50 L1029.75,292.50 L1031.75,286.25 L1033.75,283.75 L1035.50,286.25 L1037.25,281.25 L1039.25,276.25 L1041.00,272.50 L1043.00,270.00 L1044.75,261.25 L1046.75,258.75 L1048.50,260.00 L1050.00,266.25 L1051.75,263.75 L1054.25,262.50 L1056.00,270.00 L1057.50,277.50 L1059.25,280.00 L1061.00,281.25 L1062.50,287.50 L1063.75,293.75 L1065.50,292.50 L1067.50,290.00 L1069.25,291.25 L1071.00,287.50 L1073.00,285.00 L1074.75,286.25 L1076.75,291.25 L1078.50,293.75 L1080.00,292.50 L1081.75,297.50 L1083.00,301.25 L1084.75,295.00 L1086.25,300.00 L1088.00,302.50 L1089.75,300.00 L1091.25,293.75 L1092.50,303.75 L1093.75,310.00 L1095.50,316.25 L1096.75,325.00 L1098.00,340.00 L1099.25,347.50 L1100.50,354.50 L1102.25,347.50 L1103.75,340.00 L1105.50,343.75 L1107.25,348.75 L1108.75,353.75 L1110.50,345.00 L1112.25,347.50 L1114.25,350.00 L1116.00,348.75 L1118.00,352.50 L1120.00,356.25 L1121.75,350.00 L1123.00,340.00 L1124.75,336.25 L1126.25,342.50 L1128.00,348.75 L1129.75,347.50 L1131.75,341.25 L1133.50,338.75 L1135.50,345.00 L1137.25,352.50 L1138.75,361.25 L1140.50,371.00 L1141.25,386.00 L1141.75,402.25 L1143.50,403.50 L1144.75,421.00 L1146.25,419.75 L1147.25,435.50 L1148.75,421.00 L1150.50,418.50 L1152.00,421.00 L1154.25,412.25 L1156.00,411.00 L1158.00,417.25 L1159.75,422.25 L1161.75,427.25 L1163.75,432.25 L1165.50,432.25 L1167.50,424.75 L1169.25,418.50 L1171.25,409.75 L1173.00,408.50 L1174.75,421.00 L1176.75,431.00 L1178.50,423.50 L1180.50,417.25 L1182.25,416.00 L1184.25,403.50 L1186.00,394.75 L1188.00,396.00 L1190.00,401.00 L1191.75,406.00 L1193.50,413.50 L1195.00,403.50 L1196.75,393.50 L1198.50,391.00 L1200.50,394.75 L1202.50,397.25 L1204.25,401.00 L1206.00,398.50 L1208.00,396.00 L1209.75,392.25 L1211.25,396.00 L1213.00,391.00 L1214.50,388.00 L1216.50,386.50 L1218.25,388.00 L1220.00,392.25 L1222.00,398.50 L1223.25,408.50 L1224.00,417.25 L1225.75,413.50 L1227.50,411.00 L1229.50,410.50 L1231.25,411.00 L1232.50,421.00 L1234.00,427.25 L1235.75,423.50 L1237.50,426.00 L1239.50,423.50 L1241.25,427.25 L1243.25,428.50 L1245.00,432.25 L1245.75,436.50 L1247.50,431.00 L1249.00,417.25 L1250.75,411.00 L1252.00,407.25 L1253.25,403.50 L1254.50,419.75 L1256.50,424.75 L1258.25,423.50 L1260.00,428.50 L1262.00,431.00 L1263.75,439.00 L1265.75,432.25 L1267.50,436.00 L1269.50,433.50 L1272.00,431.00 L1274.50,429.75 L1276.25,433.50 L1278.25,427.25 L1280.00,422.25 L1282.00,424.75 L1283.75,428.50 L1285.75,431.00 L1288.25,433.50 L1290.25,434.75 L1292.00,431.00 L1294.00,432.25 L1295.75,429.75 L1297.75,432.25 L1299.50,434.00 L1301.50,432.25 L1303.25,429.75 L1305.00,431.00 L1306.50,421.00 L1308.25,418.50 L1310.00,417.25 L1312.00,419.75 L1314.00,421.00 L1315.75,423.50 L1317.50,416.00 L1319.00,413.50 L1320.75,414.75 L1322.50,419.75 L1323.25,436.00 L1324.00,453.50 L1324.50,469.75 L1325.25,451.00 L1326.25,456.00 L1327.50,463.50 L1329.00,459.75 L1330.75,458.50 L1332.50,461.00 L1334.50,459.75 L1336.25,459.75 L1337.75,463.50 L1339.50,471.00 L1341.25,462.25 L1343.25,461.00 L1345.75,463.50 L1347.75,466.00 L1349.50,457.25 L1351.25,454.75 L1353.25,457.25 L1355.00,456.00 L1357.00,457.25 L1359.00,454.75 L1360.75,456.00 L1362.50,453.50 L1364.50,456.00 L1365.75,448.50 L1367.50,447.25 L1369.00,453.50 L1370.75,459.75 L1372.75,458.50 L1374.50,462.25 L1376.25,458.50 L1378.25,459.75 L1380.75,458.00 L1383.25,458.50 L1385.75,461.50 L1388.25,461.50 L1390.75,460.50 L1393.25,459.00 L1395.75,458.00 L1398.25,456.00 L1400.25,452.25 L1402.00,444.75 L1403.25,433.50 L1404.50,423.50 L1405.75,416.00 L1407.50,414.75 L1409.50,417.25 L1410.75,414.75 L1412.00,406.00 L1413.25,401.00 L1415.00,399.75 L1417.00,400.50 L1418.75,398.50 L1420.75,399.00 L1422.50,397.25 L1424.00,394.75 L1425.00,392.25 L1426.25,398.50 L1427.75,393.50 L1429.50,394.00 L1431.50,396.00 L1433.25,399.75" fill="none" stroke="#333333" stroke-width="2.15" stroke-linejoin="round" stroke-linecap="round"/>
<g fill="none" stroke="#10b46f" stroke-width="1.8" stroke-linecap="round" stroke-linejoin="round">
<path d="M180,169 H585.75"/><path d="M187,162 L179.5,169 L187,176"/>
<path d="M812.75,169 H905"/><path d="M898,162 L905.5,169 L898,176"/>
</g>
<g font-size="21.6" font-weight="bold" fill="#10b46f" stroke="#10b46f" stroke-width="0.35"> <text x="598.75" y="178.6" textLength="123.25" lengthAdjust="spacingAndGlyphs">Exuberance</text> <text x="726.21" y="178.6" textLength="20.2" lengthAdjust="spacingAndGlyphs">in</text> <text x="750.23" y="178.6" textLength="57.23" lengthAdjust="spacingAndGlyphs">Profit</text> </g>
<g font-size="21.6" font-weight="bold" fill="#fa8212" stroke="#fa8212" stroke-width="0.35"> <text x="986.91" y="178.4" textLength="38.15" lengthAdjust="spacingAndGlyphs">Exit</text> <text x="1030.65" y="178.4" textLength="90.06" lengthAdjust="spacingAndGlyphs">Liquidity</text> </g>
<g font-size="21.6" font-weight="bold" fill="#fd0856" stroke="#fd0856" stroke-width="0.35"> <text x="1166.55" y="178.4" textLength="53.2" lengthAdjust="spacingAndGlyphs">Price</text> <text x="1225.55" y="178.4" textLength="133.9" lengthAdjust="spacingAndGlyphs">Appreciation</text> </g>
<g font-size="21.6" font-weight="bold" fill="#fd0856" stroke="#fd0856" stroke-width="0.35"> <text x="1166.18" y="203.5" textLength="53.56" lengthAdjust="spacingAndGlyphs">Used</text> <text x="1225.05" y="203.5" textLength="19.25" lengthAdjust="spacingAndGlyphs">to</text> <text x="1249.38" y="203.5" textLength="59.2" lengthAdjust="spacingAndGlyphs">Break</text> <text x="1314.47" y="203.5" textLength="50.95" lengthAdjust="spacingAndGlyphs">Even</text> </g>
<g fill="none" stroke="#fd0856" stroke-width="2" stroke-linecap="round" stroke-linejoin="round">
<path d="M1213.25,211 V474"/><path d="M1206.5,468 L1213.25,474.75 L1220,468"/>
<path d="M1317.75,211 V468"/><path d="M1311,461.5 L1317.75,468.75 L1324.5,461.5"/>
<path d="M1213.25,210.75 H1317.75" stroke-dasharray="3.5 3.5" stroke-linecap="butt"/>
</g>
<g font-size="21.6" font-weight="bold" fill="#10b46f" stroke="#10b46f" stroke-width="0.35"> <text x="1137.63" y="61.4" textLength="44.42" lengthAdjust="spacingAndGlyphs">First</text> <text x="1189.34" y="61.4" textLength="70.31" lengthAdjust="spacingAndGlyphs">Return</text> <text x="1264.85" y="61.4" textLength="19.67" lengthAdjust="spacingAndGlyphs">to</text> <text x="1289.43" y="61.4" textLength="101.32" lengthAdjust="spacingAndGlyphs">Profitable</text> </g>
<g font-size="21.6" font-weight="bold" fill="#10b46f" stroke="#10b46f" stroke-width="0.35"> <text x="1121.47" y="87.4" textLength="77.16" lengthAdjust="spacingAndGlyphs">Regime</text> <text x="1204.39" y="87.4" textLength="56.23" lengthAdjust="spacingAndGlyphs">Since</text> <text x="1266.74" y="87.4" textLength="41.26" lengthAdjust="spacingAndGlyphs">Nov</text> <text x="1313.32" y="87.4" textLength="50.31" lengthAdjust="spacingAndGlyphs">2021</text> <text x="1369.37" y="87.4" textLength="43.77" lengthAdjust="spacingAndGlyphs">ATH</text> </g>
<path d="M1125,93.75 H1422.5" fill="none" stroke="#10b46f" stroke-width="1.2" stroke-dasharray="2.4 2.4"/>
<path d="M1422.5,94 V158" fill="none" stroke="#10b46f" stroke-width="1.2" stroke-dasharray="4.3 4.3"/>
<g font-size="17.4" font-style="italic" fill="#f2266f" > <text x="976.22" y="645.75" textLength="81.43" lengthAdjust="spacingAndGlyphs">Expanding</text> <text x="1063.23" y="645.75" textLength="53.87" lengthAdjust="spacingAndGlyphs">Losses</text> </g>
<g font-size="17.4" font-style="italic" fill="#f2266f" > <text x="1161.47" y="714.5" textLength="80.68" lengthAdjust="spacingAndGlyphs">Expanding</text> <text x="1248.23" y="714.5" textLength="53.62" lengthAdjust="spacingAndGlyphs">Losses</text> </g>
<g font-size="16" fill="#8c8c8c" > <text x="33.51" y="844.25" textLength="11.74" lengthAdjust="spacingAndGlyphs">©</text> <text x="50.42" y="844.25" textLength="36.55" lengthAdjust="spacingAndGlyphs">2023</text> <text x="91.25" y="844.25" textLength="75.87" lengthAdjust="spacingAndGlyphs">Glassnode.</text> <text x="171.22" y="844.25" textLength="15.99" lengthAdjust="spacingAndGlyphs">All</text> <text x="191.27" y="844.25" textLength="42.52" lengthAdjust="spacingAndGlyphs">Rights</text> <text x="237.51" y="844.25" textLength="68.87" lengthAdjust="spacingAndGlyphs">Reserved.</text> </g>
<g aria-label="glassnode" fill="#111" stroke="#111" stroke-width="0.85" stroke-linejoin="round" font-size="26.3"><text transform="translate(1375.74,846) scale(1.18,1)">g</text><text transform="translate(1393.57,846) scale(1.0,1)">l</text><text transform="translate(1399.24,846) scale(1.0,1)">a</text><text transform="translate(1416.58,846) scale(0.77,1)">s</text><text transform="translate(1427.97,846) scale(0.79,1)">s</text><text transform="translate(1439.51,846) scale(1.05,1)">n</text><text transform="translate(1455.14,846) scale(1.09,1)">o</text><text transform="translate(1471.58,846) scale(1.14,1)">d</text><text transform="translate(1488.47,846) scale(1.06,1)">e</text></g>
</svg></body></html>
